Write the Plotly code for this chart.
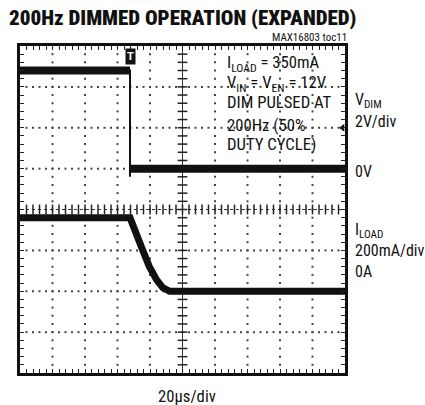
import plotly.graph_objects as go

# ---------------- data ----------------
# time axis: 10 divisions x 20 us
vdim_t = [0.0, 67.7, 67.7, 67.7, 200.0]          # us
vdim_v = [4.8, 4.8, -0.4, 0.0, 0.0]              # V
iload_t = [0.0, 67.7, 75.4, 79.5, 84.0, 87.8, 92.1, 200.0]   # us
iload_ma = [360, 360, 203, 122, 57, 18, 0, 0]    # mA

trigger_t = 67.7        # us
trigger_level_div = 6.0

# scope scaling
VDIM_ZERO_DIV, VDIM_PER_DIV = 5.0, 2.0      # 0V at div 5, 2V/div
ILOAD_ZERO_DIV, ILOAD_PER_DIV = 2.0, 200.0  # 0A at div 2, 200mA/div
T_MAX, N_DIV_Y = 200.0, 8.0
X_MINOR, Y_MINOR = 4.0, 0.2

vdim_div = [VDIM_ZERO_DIV + v / VDIM_PER_DIV for v in vdim_v]
iload_div = [ILOAD_ZERO_DIV + i / ILOAD_PER_DIV for i in iload_ma]

FONT = "Roboto"
BLACK = "#111111"

fig = go.Figure()

# ---- graticule dots ----
gx, gy = [], []
nx = int(T_MAX / X_MINOR)
ny = int(round(N_DIV_Y / Y_MINOR))
for k in [1, 2, 3, 5, 6, 7]:
    for j in range(1, nx):
        gx.append(j * X_MINOR)
        gy.append(k)
for k in [20, 40, 60, 80, 120, 140, 160, 180]:
    for j in range(1, ny):
        gx.append(k)
        gy.append(j * Y_MINOR)
fig.add_trace(go.Scatter(x=gx, y=gy, mode="markers",
                         marker=dict(symbol="square", size=2, color="#444444"),
                         hoverinfo="skip", showlegend=False))

# ---- center cross lines ----
fig.add_trace(go.Scatter(x=[0, T_MAX], y=[4, 4], mode="lines",
                         line=dict(color="#333333", width=1, dash="3px,3px"),
                         hoverinfo="skip", showlegend=False))
fig.add_trace(go.Scatter(x=[100, 100], y=[0, N_DIV_Y], mode="lines",
                         line=dict(color="#333333", width=1),
                         hoverinfo="skip", showlegend=False))
fig.add_trace(go.Scatter(x=[j * X_MINOR for j in range(1, nx)], y=[4] * (nx - 1),
                         mode="markers",
                         marker=dict(symbol="line-ns", size=7,
                                     line=dict(width=1.5, color="#222222")),
                         hoverinfo="skip", showlegend=False))
fig.add_trace(go.Scatter(x=[100] * (ny - 1), y=[j * Y_MINOR for j in range(1, ny)],
                         mode="markers",
                         marker=dict(symbol="line-ew", size=7,
                                     line=dict(width=1.5, color="#222222")),
                         hoverinfo="skip", showlegend=False))

# ---- VDIM trace ----
fig.add_trace(go.Scatter(x=vdim_t, y=vdim_div, mode="lines",
                         line=dict(color=BLACK, width=2),
                         hoverinfo="skip", showlegend=False))
fig.add_trace(go.Scatter(x=[vdim_t[0], vdim_t[1], None, vdim_t[3], vdim_t[4]],
                         y=[vdim_div[0], vdim_div[1], None, vdim_div[3], vdim_div[4]],
                         mode="lines", line=dict(color=BLACK, width=8),
                         hoverinfo="skip", showlegend=False))

# ---- ILOAD trace ----
fig.add_trace(go.Scatter(x=iload_t, y=iload_div, mode="lines",
                         line=dict(color=BLACK, width=7),
                         hoverinfo="skip", showlegend=False))

# trigger level marker
fig.add_trace(go.Scatter(x=[T_MAX - 1.5], y=[trigger_level_div], mode="markers",
                         marker=dict(symbol="triangle-left", size=7, color=BLACK),
                         cliponaxis=False, hoverinfo="skip", showlegend=False))

# ---- layout ----
L, R, T, B = 20, 345, 46, 373
W, H = 425, 405


def px(x):
    return (x - L) / (R - L)


def py(y):
    return (B - y) / (B - T)


ann = []


def cond(s):
    return f'<span style="font-stretch:condensed">{s}</span>'


def text(s, x, y, size=16.7, xanchor="left", weight=400):
    ann.append(dict(text=cond(s), x=px(x), y=py(y),
                    xref="paper", yref="paper", xanchor=xanchor, yanchor="middle",
                    showarrow=False, borderpad=0,
                    font=dict(family=FONT, size=size, color=BLACK, weight=weight)))


text("200Hz DIMMED OPERATION (EXPANDED)", 182.5, 18, size=21, xanchor="center", weight=900)
text("MAX16803 toc11", 348, 37.5, size=11, xanchor="right")

text("I<sub>LOAD</sub> = 350mA", 226, 64)
text("V<sub>IN</sub> = V<sub>EN</sub> = 12V", 226, 84)
text("DIM PULSED AT", 226, 103)
text("200Hz (50%", 226, 125)
text("DUTY CYCLE)", 226, 144)

RS = 16
text("V<sub>DIM</sub>", 354, 100, size=RS)
text("2V/div", 354, 122, size=RS)
text("0V", 354, 171, size=RS)
text("I<sub>LOAD</sub>", 354, 230, size=RS)
text("200mA/div", 354, 250, size=RS)
text("0A", 354, 271, size=RS)

text("20μs/div", 187, 396, xanchor="center")

# trigger "T" tab
ann.append(dict(text="<b>T</b>", x=trigger_t, y=N_DIV_Y, xref="x", yref="y",
                xanchor="center", yanchor="top", yshift=-2, showarrow=False,
                bgcolor=BLACK, borderpad=1,
                font=dict(family=FONT, size=11, color="white")))

axis_common = dict(showline=True, linewidth=3, linecolor=BLACK, mirror="allticks",
                   ticks="inside", ticklen=4, tickwidth=1, tickcolor="#222222",
                   showticklabels=False, showgrid=False, zeroline=False, fixedrange=True)

fig.update_layout(
    width=W, height=H,
    margin=dict(l=L, r=W - R, t=T, b=H - B),
    paper_bgcolor="white", plot_bgcolor="white",
    xaxis=dict(range=[0, T_MAX], tick0=0, dtick=X_MINOR, **axis_common),
    yaxis=dict(range=[0, N_DIV_Y], tick0=0, dtick=Y_MINOR, **axis_common),
    annotations=ann,
    showlegend=False,
)

fig.write_html("out.html", config={"displayModeBar": False},
               post_script="document.body.style.margin='0';")
